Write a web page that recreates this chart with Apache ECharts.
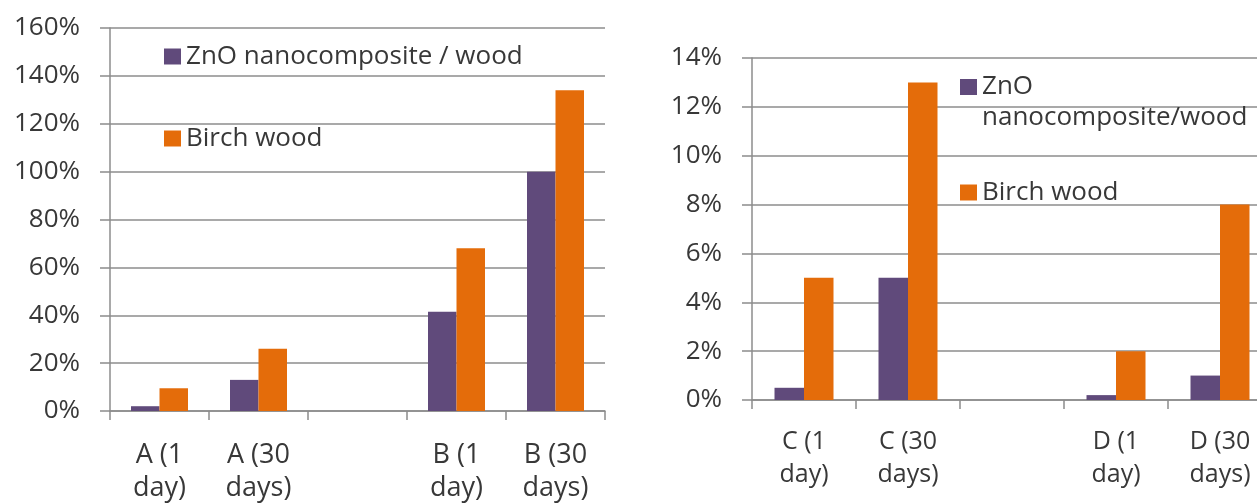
<!DOCTYPE html>
<html>
<head>
<meta charset="utf-8">
<script src="https://cdn.jsdelivr.net/npm/echarts@6/dist/echarts.min.js"></script>
<style>
  html, body { margin: 0; padding: 0; background: #ffffff; }
  #chart { width: 1257px; height: 503px; }
</style>
</head>
<body>
<div id="chart"></div>
<script>
// Weight change (%) after 1 and 30 days, two sample sets per panel
const leftCategories = ['A (1\nday)', 'A (30\ndays)', '', 'B (1\nday)', 'B (30\ndays)'];
const leftZnO = [2, 13, null, 41.5, 100];
const leftBirch = [9.5, 26, null, 68, 134];
const leftAxis = { min: 0, max: 160, interval: 20 };

const rightCategories = ['C (1\nday)', 'C (30\ndays)', '', 'D (1\nday)', 'D (30\ndays)'];
const rightZnO = [0.5, 5, null, 0.2, 1];
const rightBirch = [5, 13, null, 2, 8];
const rightAxis = { min: 0, max: 14, interval: 2 };

const leftZnOName = 'ZnO nanocomposite / wood';
const rightZnOName = 'ZnO nanocomposite/wood';
const birchName = 'Birch wood';

const PURPLE = '#604A7B';
const ORANGE = '#E46C0A';
const GRID_GRAY = '#8c8c8c';
const TEXT = '#383838';
const FONT = 'Open Sans';

// Square swatch on top with an invisible speck at the bottom, so the swatch
// lines up with the first line of a two-line legend label.
const TOP_SWATCH = 'path://M0,0H17V16H0Z M0,45.99H0.01V46H0Z';

const chart = echarts.init(document.getElementById('chart'), null, { renderer: 'canvas' });

function xAxisFor(gridIndex, cats, margin, fontSize) {
  return {
    type: 'category',
    gridIndex: gridIndex,
    data: cats,
    axisLine: { show: true, lineStyle: { color: GRID_GRAY, width: 1.5 } },
    axisTick: { show: true, length: 9, lineStyle: { color: GRID_GRAY, width: 1.5 } },
    axisLabel: {
      color: TEXT, fontFamily: FONT, fontSize: fontSize, lineHeight: 33,
      margin: margin, interval: 0
    },
    splitLine: { show: false }
  };
}

function yAxisFor(gridIndex, range) {
  return {
    type: 'value',
    gridIndex: gridIndex,
    min: range.min, max: range.max, interval: range.interval,
    axisLine: { show: true, lineStyle: { color: GRID_GRAY, width: 1.5 } },
    axisTick: { show: true, length: 10, lineStyle: { color: GRID_GRAY, width: 1.5 } },
    axisLabel: {
      color: TEXT, fontFamily: FONT, fontSize: 26,
      margin: 30, formatter: '{value}%'
    },
    splitLine: { show: true, lineStyle: { color: GRID_GRAY, width: 1.5 } }
  };
}

function legendItem(name, left, top, text, icon, iconHeight) {
  return {
    data: [name],
    left: left, top: top,
    orient: 'vertical',
    itemWidth: 17, itemHeight: iconHeight || 16,
    icon: icon || 'rect',
    itemGap: 0,
    formatter: function () { return text; },
    textStyle: { color: TEXT, fontFamily: FONT, fontSize: 26, lineHeight: 31 }
  };
}

chart.setOption({
  animation: false,
  backgroundColor: '#ffffff',
  grid: [
    { left: 110, top: 28, width: 495, height: 383, containLabel: false, outerBoundsMode: 'none' },
    { left: 752, top: 58, width: 520, height: 342, containLabel: false, outerBoundsMode: 'none' }
  ],
  xAxis: [xAxisFor(0, leftCategories, 28, 27), xAxisFor(1, rightCategories, 25, 25)],
  yAxis: [yAxisFor(0, leftAxis), yAxisFor(1, rightAxis)],
  legend: [
    legendItem(leftZnOName, 159, 36, 'ZnO nanocomposite / wood'),
    legendItem(birchName, 159, 118, 'Birch wood'),
    legendItem(rightZnOName, 955, 66, 'ZnO\nnanocomposite/wood', TOP_SWATCH, 47),
    legendItem(birchName, 955, 172, 'Birch wood')
  ],
  series: [
    {
      name: leftZnOName, type: 'bar', xAxisIndex: 0, yAxisIndex: 0,
      data: leftZnO, barWidth: 28.5, barGap: '0%',
      itemStyle: { color: PURPLE }
    },
    {
      name: birchName, type: 'bar', xAxisIndex: 0, yAxisIndex: 0,
      data: leftBirch, barWidth: 28.5, barGap: '0%',
      itemStyle: { color: ORANGE }
    },
    {
      name: rightZnOName, type: 'bar', xAxisIndex: 1, yAxisIndex: 1,
      data: rightZnO, barWidth: 29.5, barGap: '0%',
      itemStyle: { color: PURPLE }
    },
    {
      name: birchName, type: 'bar', xAxisIndex: 1, yAxisIndex: 1,
      data: rightBirch, barWidth: 29.5, barGap: '0%',
      itemStyle: { color: ORANGE }
    }
  ]
});
</script>
</body>
</html>
